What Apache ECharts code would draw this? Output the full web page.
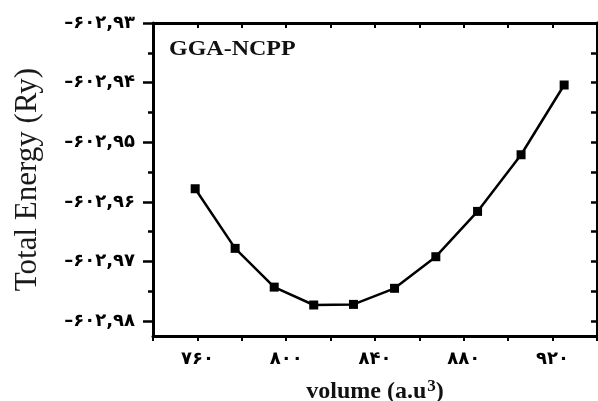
<!DOCTYPE html>
<html>
<head>
<meta charset="utf-8">
<script src="https://cdn.jsdelivr.net/npm/echarts@6/dist/echarts.min.js"></script>
<style>html,body{margin:0;padding:0;background:#fff}#c{width:598px;height:401px}</style>
</head>
<body>
<div id="c"></div>
<script>
// Data
const volumes = [759, 777, 794.6, 812.4, 830.3, 848.8, 867.4, 886.2, 905.8, 925.2];
const energies = [-602.9578, -602.9678, -602.9743, -602.9773, -602.9772, -602.9745, -602.9692, -602.9616, -602.9521, -602.9404];
const yLabelValues = [-602.98, -602.97, -602.96, -602.95, -602.94, -602.93];
const yMinorValues = [-602.975, -602.965, -602.955, -602.945, -602.935];
const xLabelValues = [760, 800, 840, 880, 920];
const seriesName = 'GGA-NCPP';

const fa = '۰۱۲۳۴۵۶۷۸۹';
function toFa(s) { return String(s).replace(/\d/g, d => fa[+d]); }
function fmtY(v) { return toFa(v.toFixed(2)).replace('-', '\u2013').replace('.', ','); }
function fmtX(v) { return xLabelValues.indexOf(Math.round(v)) >= 0 ? toFa(Math.round(v)) : ''; }

const yMin = -602.9825, yMax = -602.93;
const axisLineStyle = { lineStyle: { color: '#000', width: 3 } };
const labelFont = { fontFamily: 'DejaVu Sans', fontWeight: 'bold', fontSize: 18, color: '#000' };

const chart = echarts.init(document.getElementById('c'), null, { renderer: 'canvas' });
chart.setOption({
  animation: false,
  backgroundColor: '#fff',
  grid: { left: 153, right: 1, top: 23, bottom: 65, containLabel: false, outerBoundsMode: 'none' },
  graphic: [{
    type: 'text', left: 169, top: 40, scaleX: 1.2,
    style: { text: seriesName, font: 'bold 20px "Liberation Serif"', fill: '#111' }
  }],
  xAxis: [{
    type: 'value', position: 'bottom', min: 740, max: 940, interval: 20,
    axisLine: axisLineStyle,
    axisTick: { inside: false, length: 5, lineStyle: { width: 2, color: '#000' } },
    axisLabel: Object.assign({ formatter: fmtX, margin: 14, showMinLabel: true, showMaxLabel: true }, labelFont),
    splitLine: { show: false },
    name: 'volume (a.u{sup|3})', nameLocation: 'middle', nameGap: 42,
    nameTextStyle: {
      fontFamily: 'Liberation Serif', fontWeight: 'bold', fontSize: 24, color: '#111',
      rich: { sup: { fontFamily: 'Liberation Serif', fontWeight: 'bold', fontSize: 17, color: '#111', verticalAlign: 'top', padding: [0, 0, 10, 1] } }
    }
  }, {
    type: 'value', position: 'top', min: 740, max: 940, interval: 20,
    axisLine: axisLineStyle,
    axisTick: { inside: true, length: 5, lineStyle: { width: 2, color: '#000' } },
    axisLabel: { show: false }, splitLine: { show: false }
  }],
  yAxis: [{
    type: 'value', position: 'left', min: yMin, max: yMax,
    axisLine: axisLineStyle,
    axisTick: { inside: false, length: 10, customValues: yLabelValues, lineStyle: { width: 2.5, color: '#000' } },
    axisLabel: Object.assign({ formatter: fmtY, margin: 18, customValues: yLabelValues }, labelFont),
    splitLine: { show: false },
    name: 'Total Energy (Ry)', nameLocation: 'middle', nameGap: 110, nameRotate: 90,
    nameTextStyle: { fontFamily: 'Liberation Serif', fontSize: 31, color: '#1a1a1a' }
  }, {
    type: 'value', position: 'left', min: yMin, max: yMax,
    axisLine: { show: false },
    axisTick: { inside: false, length: 5, customValues: yMinorValues, lineStyle: { width: 2.5, color: '#000' } },
    axisLabel: { show: false }, splitLine: { show: false }
  }, {
    type: 'value', position: 'right', min: yMin, max: yMax,
    axisLine: axisLineStyle,
    axisTick: { inside: true, length: 6, customValues: yLabelValues.concat(yMinorValues), lineStyle: { width: 2.5, color: '#000' } },
    axisLabel: { show: false }, splitLine: { show: false }
  }],
  series: [{
    name: seriesName, type: 'line', xAxisIndex: 0, yAxisIndex: 0,
    data: volumes.map((v, i) => [v, energies[i]]),
    symbol: 'rect', symbolSize: 9,
    lineStyle: { color: '#000', width: 2.5 },
    itemStyle: { color: '#000' }
  }]
});
</script>
</body>
</html>
